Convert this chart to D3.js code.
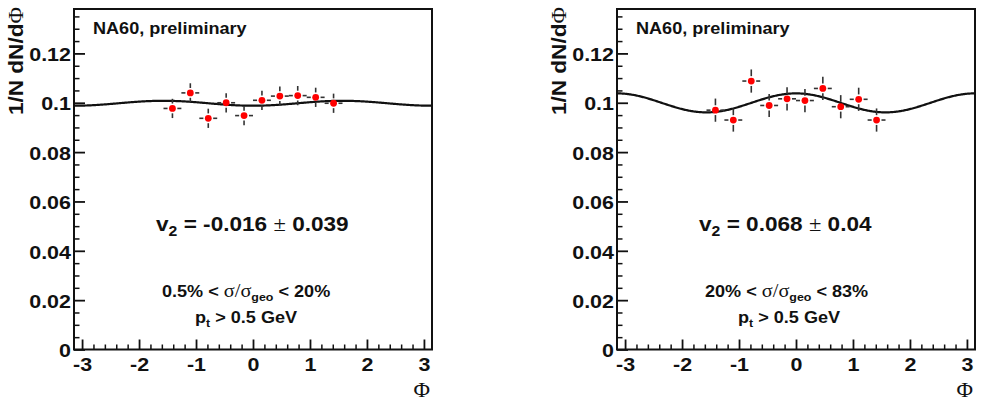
<!DOCTYPE html>
<html>
<head>
<meta charset="utf-8">
<script src="https://cdn.jsdelivr.net/npm/d3@7"></script>
<style>
  html, body { margin: 0; padding: 0; background: #fff; }
  svg { display: block; }
  text { font-family: "Liberation Sans", Arial, sans-serif; font-weight: bold; fill: #111; }
  .serif { font-family: "Liberation Serif", "Times New Roman", serif; font-weight: normal; }
</style>
</head>
<body>
<svg id="chart" width="984" height="401"></svg>
<script>
// ---------------- data ----------------
const phiCenters = [-1.414, -1.100, -0.785, -0.471, -0.157, 0.157, 0.471, 0.785, 1.100, 1.414];
const phiHalfWidth = 0.157;

const leftValues  = [0.0977, 0.1040, 0.0937, 0.1000, 0.0948, 0.1010, 0.1027, 0.1029, 0.1022, 0.0998];
const leftErrors  = [0.0039, 0.0039, 0.0039, 0.0039, 0.0039, 0.0039, 0.0039, 0.0039, 0.0039, 0.0039];
const rightValues = [0.0970, 0.0930, 0.1088, 0.0989, 0.1016, 0.1009, 0.1058, 0.0984, 0.1014, 0.0930];
const rightErrors = [0.0047, 0.0047, 0.0047, 0.0047, 0.0047, 0.0047, 0.0047, 0.0047, 0.0047, 0.0047];

// fit curves: norm * (1 + amp * cos(2 phi))
const fitNorm = [0.0998, 0.09995];
const fitAmp  = [-0.010, 0.0385];

const yTicks = [0, 0.02, 0.04, 0.06, 0.08, 0.1, 0.12];
const yTickLabels = ["0", "0.02", "0.04", "0.06", "0.08", "0.1", "0.12"];
const xTicks = [-3, -2, -1, 0, 1, 2, 3];
const xTickLabels = ["-3", "-2", "-1", "0", "1", "2", "3"];

const v2Texts = [["-0.016", "0.039"], ["0.068", "0.04"]];
const centralityTexts = [["0.5%", "20%"], ["20%", "83%"]];
const ptText = " > 0.5 GeV";
const experimentText = "NA60, preliminary";

// ---------------- drawing ----------------
const svg = d3.select("#chart");
const SX = 1.13;
const panels = [
  { x0: 74, x1: 432, values: leftValues, errors: leftErrors },
  { x0: 617, x1: 975, values: rightValues, errors: rightErrors }
];
const yTop = 9, yBot = 349.5;

panels.forEach((p, i) => {
  const g = svg.append("g");
  const x = d3.scaleLinear().domain([-Math.PI, Math.PI]).range([p.x0, p.x1]);
  const y = d3.scaleLinear().domain([0, 0.138]).range([yBot, yTop]);

  // minor ticks
  const yMinor = d3.range(0, 0.1376, 0.005).filter(v => Math.abs(v / 0.02 - Math.round(v / 0.02)) > 1e-6);
  g.append("g").attr("transform", `translate(${p.x0},0)`)
    .call(d3.axisLeft(y).tickValues(yMinor).tickSize(-5.5).tickFormat(""))
    .call(s => s.select(".domain").remove())
    .call(s => s.selectAll("line").attr("stroke", "#111").attr("stroke-width", 1.5));
  const xMinor = d3.range(-3, 3.001, 0.2).map(v => +v.toFixed(1)).filter(v => Math.abs(v - Math.round(v)) > 1e-6);
  g.append("g").attr("transform", `translate(0,${yBot})`)
    .call(d3.axisBottom(x).tickValues(xMinor).tickSize(-5).tickFormat(""))
    .call(s => s.select(".domain").remove())
    .call(s => s.selectAll("line").attr("stroke", "#111").attr("stroke-width", 1.5));

  // major ticks + labels
  g.append("g").attr("transform", `translate(${p.x0},0)`)
    .call(d3.axisLeft(y).tickValues(yTicks).tickSize(-11).tickPadding(3)
      .tickFormat((d, k) => yTickLabels[k]))
    .call(s => s.select(".domain").remove())
    .call(s => s.selectAll("line").attr("stroke", "#111").attr("stroke-width", 1.8))
    .call(s => s.selectAll("text").attr("font-size", 19).attr("fill", "#111")
      .attr("font-family", "Liberation Sans, Arial, sans-serif").attr("font-weight", "bold")
      .attr("dy", "0.38em")
      .attr("transform", `scale(${SX},1)`).attr("x", -3 / SX));
  g.append("g").attr("transform", `translate(0,${yBot})`)
    .call(d3.axisBottom(x).tickValues(xTicks).tickSize(-10).tickPadding(6)
      .tickFormat((d, k) => xTickLabels[k]))
    .call(s => s.select(".domain").remove())
    .call(s => s.selectAll("line").attr("stroke", "#111").attr("stroke-width", 1.8))
    .call(s => s.selectAll("text").attr("font-size", 19).attr("fill", "#111")
      .attr("font-family", "Liberation Sans, Arial, sans-serif").attr("font-weight", "bold")
      .attr("y", 8).attr("dy", "0.71em")
      .attr("transform", `scale(${SX},1)`));

  // frame
  g.append("rect").attr("x", p.x0).attr("y", yTop)
    .attr("width", p.x1 - p.x0).attr("height", yBot - yTop)
    .attr("fill", "none").attr("stroke", "#111").attr("stroke-width", 2);

  // fit curve
  const phis = d3.range(0, 401).map(k => -Math.PI + k * 2 * Math.PI / 400);
  const line = d3.line().x(d => x(d)).y(d => y(fitNorm[i] * (1 + fitAmp[i] * Math.cos(2 * d))))
    .curve(d3.curveLinear);
  g.append("path").datum(phis).attr("d", line)
    .attr("fill", "none").attr("stroke", "#111").attr("stroke-width", 2.2);

  // data points
  const r = 3.4;
  const pts = g.append("g");
  phiCenters.forEach((ph, k) => {
    const cx = x(ph), cy = y(p.values[k]);
    const xl = x(ph - phiHalfWidth), xr = x(ph + phiHalfWidth);
    const yt = y(p.values[k] + p.errors[k]), yb = y(p.values[k] - p.errors[k]);
    const eg = pts.append("g").attr("stroke", "#333").attr("stroke-width", 1.6);
    eg.append("line").attr("x1", xl).attr("x2", cx - r - 1.5).attr("y1", cy).attr("y2", cy);
    eg.append("line").attr("x1", cx + r + 1.5).attr("x2", xr).attr("y1", cy).attr("y2", cy);
    eg.append("line").attr("x1", cx).attr("x2", cx).attr("y1", yt).attr("y2", cy - r - 1.5);
    eg.append("line").attr("x1", cx).attr("x2", cx).attr("y1", cy + r + 1.5).attr("y2", yb);
    pts.append("circle").attr("cx", cx).attr("cy", cy).attr("r", r).attr("fill", "#ff0000");
  });

  // texts
  const tx = (xx, yy) => `translate(${xx},${yy}) scale(${SX},1)`;
  g.append("text").attr("transform", tx(p.x0 + 19, 34)).attr("font-size", 16).text(experimentText);

  const v2 = g.append("text").attr("transform", tx(p.x0 + 82, 231)).attr("font-size", 20);
  v2.append("tspan").text("v");
  v2.append("tspan").attr("font-size", 14).attr("dy", 5).text("2");
  v2.append("tspan").attr("dy", -5).text(` = ${v2Texts[i][0]} `);
  v2.append("tspan").attr("class", "serif").text("\u00b1");
  v2.append("tspan").text(` ${v2Texts[i][1]}`);

  const ct = g.append("text").attr("transform", tx(p.x0 + 88, 296.5)).attr("font-size", 16);
  ct.append("tspan").text(`${centralityTexts[i][0]} < `);
  ct.append("tspan").attr("class", "serif").attr("font-size", 18).text("\u03c3/\u03c3");
  ct.append("tspan").attr("font-size", 11).attr("dy", 4).text("geo");
  ct.append("tspan").attr("dy", -4).text(` < ${centralityTexts[i][1]}`);

  const pt = g.append("text").attr("transform", tx(p.x0 + 121, 323)).attr("font-size", 16);
  pt.append("tspan").text("p");
  pt.append("tspan").attr("font-size", 11).attr("dy", 4).text("t");
  pt.append("tspan").attr("dy", -4).text(ptText);

  // axis titles
  g.append("text").attr("transform", `translate(${p.x1 - 2},397) scale(${SX},1)`)
    .attr("text-anchor", "end").attr("class", "serif").attr("font-size", 20).text("\u03a6");
  const yt = g.append("text").attr("transform", `translate(${p.x0 - 51},7) rotate(-90) scale(${SX},1)`)
    .attr("text-anchor", "end").attr("font-size", 20);
  yt.append("tspan").text("1/N dN/d");
  yt.append("tspan").attr("class", "serif").text("\u03a6");
});
</script>
</body>
</html>
